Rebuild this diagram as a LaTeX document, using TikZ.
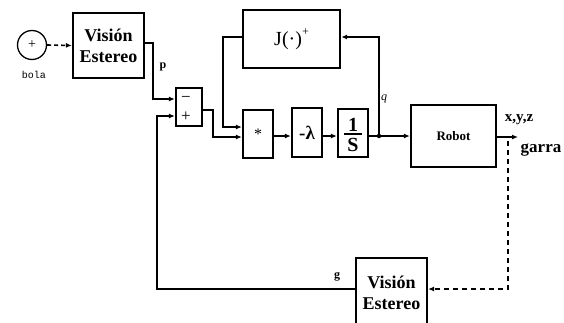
\documentclass[tikz,border=0pt]{standalone}
\usepackage{fontspec}
\setmainfont{Liberation Serif}
\newfontfamily\monofont{Liberation Mono}
\usetikzlibrary{arrows.meta}
\begin{document}
\begin{tikzpicture}[x=1pt,y=-1pt,
  blk/.style={draw,line width=2.3pt,inner sep=0pt,minimum width=#1},
  conn/.style={line width=1.6pt},
  arr/.style={conn,-{Latex[length=6pt,width=5pt]}},
  lbl/.style={inner sep=0pt},
  vis/.style={blk=71pt,align=center,font=\fontsize{18}{21}\selectfont\bfseries}]
\clip (0,0) rectangle (564,322);
\fill[white] (0,0) rectangle (564,322);
% nodes
\node[draw,circle,line width=1.3pt,minimum size=29pt,inner sep=0pt,font=\fontsize{14}{14}\selectfont] (bola) at (32,45) {+};
\node[lbl,font=\monofont\fontsize{10}{10}\selectfont] (bolat) at (34,75) {bola};
\node[vis,minimum height=65pt] (vis1) at (108.5,45.5) {Visión\\Estereo};
\node[blk=26pt,minimum height=38pt] (sum) at (189,107) {};
\node[lbl,font=\fontsize{17}{17}\selectfont] (minus) at (186,99) {−};
\node[lbl,font=\fontsize{17}{17}\selectfont] (plus) at (186,117) {+};
\node[blk=97pt,minimum height=58pt,font=\fontsize{20}{20}\selectfont] (J) at (291.5,39)
  {J(·)\raisebox{1.1ex}{\fontsize{12}{12}\selectfont +}};
\node[blk=30pt,minimum height=48pt,font=\fontsize{16}{16}\selectfont] (mul) at (258,134) {*};
\node[blk=30pt,minimum height=49pt,font=\fontsize{19}{19}\selectfont\bfseries] (lam) at (307,132.5) {-λ};
\node[blk=30pt,minimum height=48pt] (int) at (353,133) {};
\node[lbl,font=\fontsize{20}{20}\selectfont\bfseries] (one) at (353,124.5) {1};
\node[lbl,font=\fontsize{20}{20}\selectfont\bfseries] (ess) at (353,144.5) {S};
\node[blk=85pt,minimum height=62pt,font=\fontsize{13}{13}\selectfont\bfseries] (robot) at (453.5,136) {Robot};
\node[vis,minimum height=70pt] (vis2) at (391.5,293) {Visión\\Estereo};
% labels
\node[lbl,font=\fontsize{12}{12}\selectfont\bfseries] (p) at (163,67) {p};
\node[lbl,font=\fontsize{12}{12}\selectfont\itshape] (q) at (384,99) {q};
\node[lbl,font=\fontsize{12}{12}\selectfont\bfseries] (g) at (337,277) {g};
\node[lbl,font=\fontsize{15}{15}\selectfont\bfseries] (xyz) at (519,120) {x,y,z};
\node[lbl,font=\fontsize{17}{17}\selectfont\bfseries] (garra) at (541,150) {garra};
% fraction bar
\draw[line width=1.3pt] (344,134) -- (362,134);
% coordinates
\coordinate (dot) at (379,136);
\coordinate (out) at (518,137);
% connectors
\draw[arr,dash pattern=on 4pt off 3pt] (bola.east) -- (vis1.west);
\draw[arr] (vis1.east |- 0,43) -- (153,43) -- (153,99) -- (sum.west |- 0,99);
\draw[arr] (vis2.west |- 0,289) -- (157,289) -- (157,116) -- (sum.west |- 0,116);
\draw[arr] (sum.east |- 0,110) -- (213,110) -- (213,137) -- (mul.west |- 0,137);
\draw[arr] (J.west |- 0,37) -- (223,37) -- (223,127) -- (mul.west |- 0,127);
\draw[arr] (mul.east |- 0,136) -- (lam.west |- 0,136);
\draw[arr] (lam.east |- 0,136) -- (int.west |- 0,136);
\draw[arr] (int.east |- 0,136) -- (robot.west |- 0,136);
\fill (dot) circle (2.2pt);
\draw[arr] (dot) -- (379,37) -- (J.east |- 0,37);
\draw[arr] (robot.east |- 0,137) -- (out);
\draw[arr,dash pattern=on 5pt off 4pt] (508,141) -- (508,289) -- (vis2.east |- 0,289);
\end{tikzpicture}
\end{document}
